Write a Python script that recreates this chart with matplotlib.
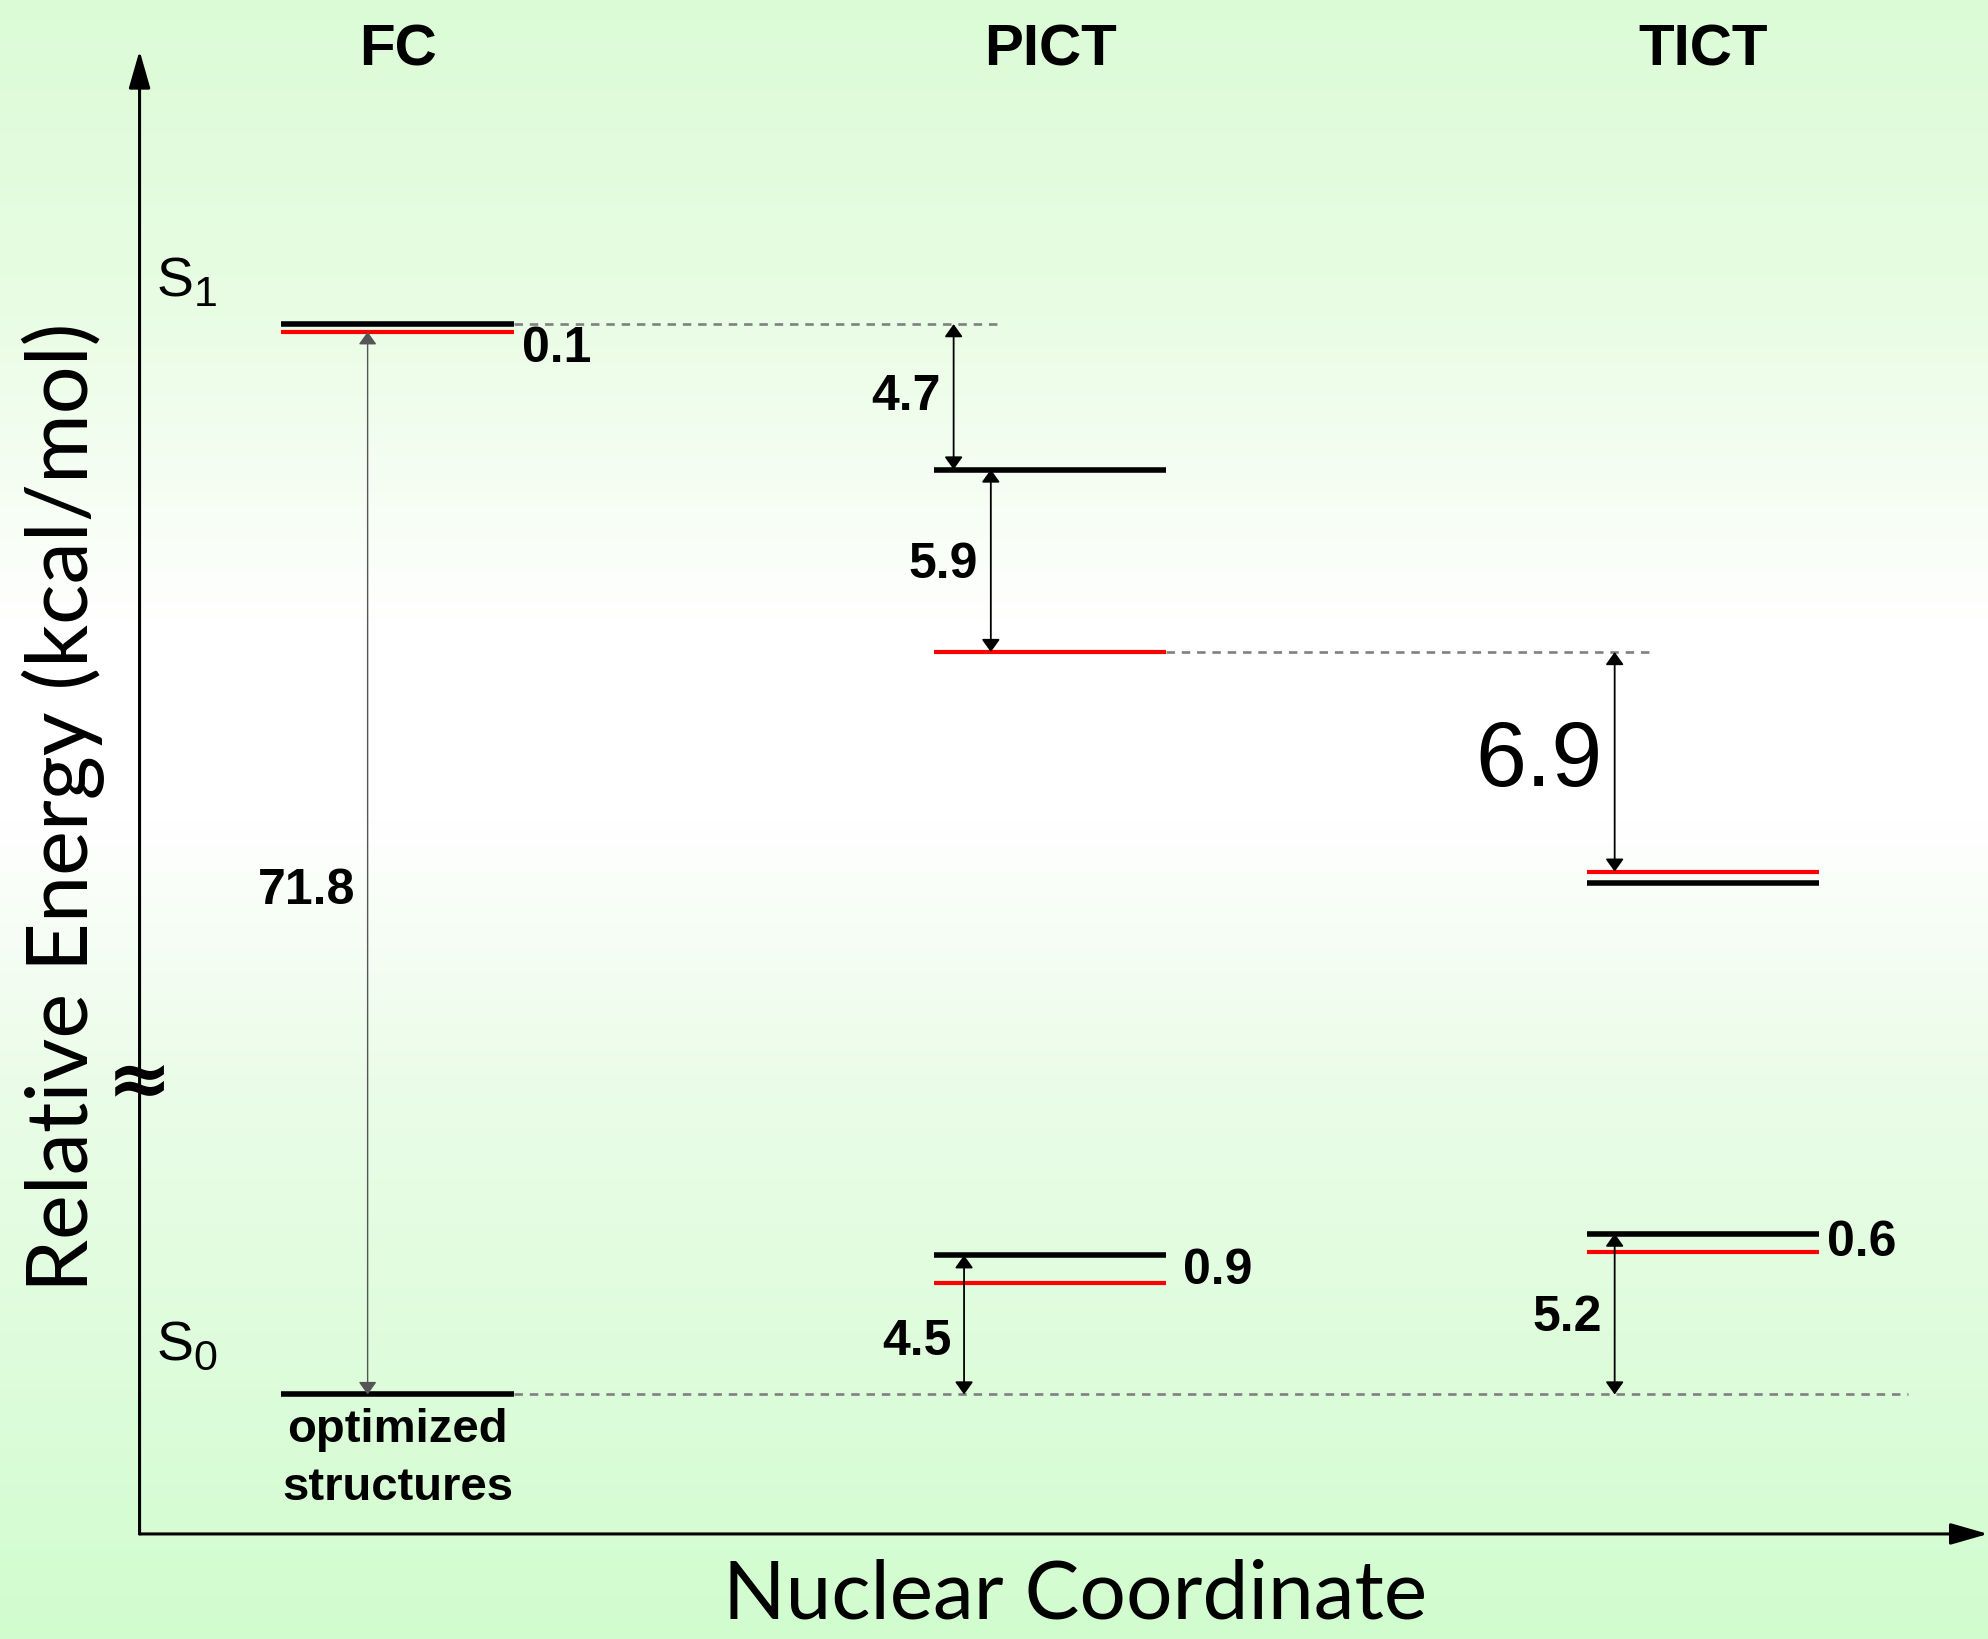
import numpy as np
import matplotlib
matplotlib.use("Agg")
import matplotlib.pyplot as plt
import matplotlib.transforms as mtransforms
from matplotlib.colors import LinearSegmentedColormap

plt.rcParams['font.family'] = ['Liberation Sans', 'DejaVu Sans']

# energy levels in kcal/mol (black / red = two methods)
columns = ["FC", "PICT", "TICT"]
s0_black = [0.0, 4.5, 5.2]
s0_red = [None, 3.6, 4.6]
s1_black = [71.9, 67.2, 53.85]
s1_red = [71.65, 61.3, 54.2]

# numbers written on the diagram
gap_labels = ["71.8", "4.7", "5.9", "6.9", "4.5", "5.2"]
split_labels = ["0.1", "0.9", "0.6"]

AXIS_BREAK = 37.3   # kcal/mol cut out of the y axis between S0 and S1
HW = 0.178          # half width of a level bar

s1b = [v - AXIS_BREAK for v in s1_black]
s1r = [v - AXIS_BREAK for v in s1_red]

fig = plt.figure(figsize=(19.88, 16.39), dpi=100)

# background: pale green -> white -> pale green
bg = fig.add_axes([0, 0, 1, 1], zorder=0)
cmap = LinearSegmentedColormap.from_list(
    "bg", [(0.0, (0.86, 0.985, 0.84)), (0.18, (0.91, 0.99, 0.89)),
           (0.38, (1, 1, 1)), (0.50, (1, 1, 1)), (0.66, (0.92, 0.99, 0.91)),
           (1.0, (0.82, 0.99, 0.81))])
bg.imshow(np.linspace(0, 1, 256).reshape(-1, 1), aspect='auto', cmap=cmap,
          extent=[0, 1, 0, 1])
bg.axis('off')

ax = fig.add_axes([0.0702, 0.0641, 0.9298, 0.905], zorder=1)
ax.patch.set_alpha(0)
ax.set_xlim(-0.3955, 2.4371)
ax.set_ylim(-4.508, 43.44)
ax.axis('off')

# axes as arrows
arrow_axis = dict(arrowstyle='-|>,head_length=1.15,head_width=0.33',
                  color='black', lw=2.2, shrinkA=0, shrinkB=0, mutation_scale=20)
ax.annotate('', xy=(0, 1), xytext=(0, 0), xycoords='axes fraction',
            arrowprops=arrow_axis)
ax.annotate('', xy=(1, 0), xytext=(0, 0), xycoords='axes fraction',
            arrowprops=arrow_axis)

ax_x = mtransforms.blended_transform_factory(ax.transAxes, ax.transData)
ax_y = mtransforms.blended_transform_factory(ax.transData, ax.transAxes)


def level(x, y, color, lw):
    ax.plot([x - HW, x + HW], [y, y], color=color, lw=lw,
            solid_capstyle='butt', zorder=3)


for i in range(len(columns)):
    level(i, s1b[i], 'black', 4)
    level(i, s1r[i], 'red', 3)
    level(i, s0_black[i], 'black', 4)
    if s0_red[i] is not None:
        level(i, s0_red[i], 'red', 3)

# dashed reference lines
dash = dict(color='#808080', lw=1.9, ls=(0, (3.2, 2.6)), zorder=2)
ax.plot([HW, 0.926], [s1b[0], s1b[0]], **dash)
ax.plot([1 + HW, 1.917], [s1r[1], s1r[1]], **dash)
ax.plot([HW, 2.315], [s0_black[0], s0_black[0]], **dash)


def gap(x, y0, y1, label, dy=0, size=36, weight='bold', color='black', lw=1.3):
    ax.annotate('', xy=(x, y1), xytext=(x, y0),
                arrowprops=dict(arrowstyle='<|-|>,head_length=0.35,head_width=0.25',
                                color=color, lw=lw, shrinkA=0, shrinkB=0,
                                mutation_scale=22), zorder=4)
    ax.annotate(label, xy=(x, (y0 + y1) / 2), xytext=(-9, dy),
                textcoords='offset points', ha='right', va='center',
                fontsize=size, fontweight=weight)


gap(-0.046, s0_black[0], s1r[0], gap_labels[0], dy=-20, color='#555555', lw=1.0)
gap(0.852, s1b[0], s1b[1], gap_labels[1])
gap(0.909, s1b[1], s1r[1], gap_labels[2], dy=-3)
gap(1.865, s1r[1], s1r[2], gap_labels[3], size=66, weight='normal')
gap(0.868, s0_black[0], s0_black[1], gap_labels[4], dy=-12)
gap(1.865, s0_black[0], s0_black[2], gap_labels[5], dy=-3)

# black/red splittings
ax.annotate(split_labels[0], xy=(HW, (s1b[0] + s1r[0]) / 2), xytext=(6, -15),
            textcoords='offset points', ha='left', va='center',
            fontsize=36, fontweight='bold')
ax.annotate(split_labels[1], xy=(1 + HW, (s0_black[1] + s0_red[1]) / 2),
            xytext=(12, -1), textcoords='offset points', ha='left', va='center',
            fontsize=36, fontweight='bold')
ax.annotate(split_labels[2], xy=(2 + HW, (s0_black[2] + s0_red[2]) / 2),
            xytext=(6, 0), textcoords='offset points', ha='left', va='center',
            fontsize=36, fontweight='bold')

# column headers
for i, name in enumerate(columns):
    ax.text(i, 0.990, name, transform=ax_y, ha='center', va='baseline',
            fontsize=42, fontweight='bold')

# state labels, S with a large subscript
for y, sub in [(35.49, "1"), (1.1, "0")]:
    ax.text(0.009, y, "S", transform=ax_x, ha='left', va='baseline', fontsize=40)
    ax.annotate(sub, xy=(0.009, y), xycoords=ax_x, xytext=(27, -7),
                textcoords='offset points', ha='left', va='baseline',
                fontsize=31)

ax.text(0, -0.45, "optimized\nstructures", ha='center', va='top',
        fontsize=34, fontweight='bold', linespacing=1.4)

# axis break mark
ax.text(0, 10.08, "\u2248", transform=ax_x, ha='center', va='center',
        fontsize=56, fontweight='bold', family='DejaVu Sans', zorder=5)

fig.text(0.0317, 0.5076, "Relative Energy (kcal/mol)", rotation=90,
         ha='center', va='center', fontsize=61, family=['Lato', 'DejaVu Sans'])
fig.text(0.541, 0.0265, "Nuclear Coordinate", ha='center', va='center',
         fontsize=59, family=['Lato', 'DejaVu Sans'])

fig.savefig("out.png", dpi=100)
